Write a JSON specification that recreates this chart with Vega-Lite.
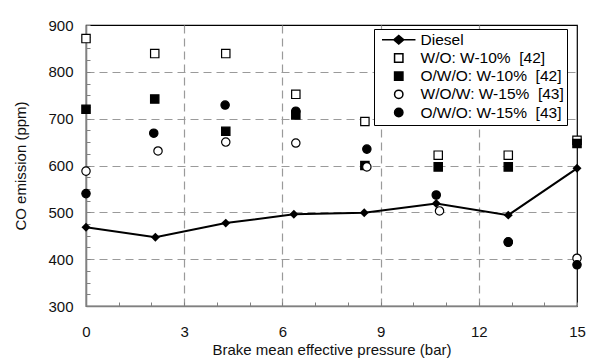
{
  "$schema": "https://vega.github.io/schema/vega-lite/v6.json",
  "width": 491,
  "height": 281,
  "autosize": {"type": "none"},
  "padding": {"left": 86, "top": 25, "right": 21, "bottom": 54},
  "background": "white",
  "config": {
    "font": "Liberation Sans",
    "view": {"stroke": "#000", "strokeWidth": 1.2}
  },
  "datasets": {
    "scatter": [
      {"bmep": 0, "co": 871, "series": "W/O: W-10%\u00a0 [42]"},
      {"bmep": 2.1, "co": 839, "series": "W/O: W-10%\u00a0 [42]"},
      {"bmep": 4.27, "co": 839, "series": "W/O: W-10%\u00a0 [42]"},
      {"bmep": 6.41, "co": 752, "series": "W/O: W-10%\u00a0 [42]"},
      {"bmep": 8.52, "co": 694, "series": "W/O: W-10%\u00a0 [42]"},
      {"bmep": 10.76, "co": 622, "series": "W/O: W-10%\u00a0 [42]"},
      {"bmep": 12.9, "co": 622, "series": "W/O: W-10%\u00a0 [42]"},
      {"bmep": 15, "co": 654, "series": "W/O: W-10%\u00a0 [42]"},
      {"bmep": 0, "co": 720, "series": "O/W/O: W-10%\u00a0 [42]"},
      {"bmep": 2.1, "co": 742, "series": "O/W/O: W-10%\u00a0 [42]"},
      {"bmep": 4.27, "co": 673, "series": "O/W/O: W-10%\u00a0 [42]"},
      {"bmep": 6.41, "co": 708, "series": "O/W/O: W-10%\u00a0 [42]"},
      {"bmep": 8.52, "co": 600, "series": "O/W/O: W-10%\u00a0 [42]"},
      {"bmep": 10.76, "co": 597, "series": "O/W/O: W-10%\u00a0 [42]"},
      {"bmep": 12.9, "co": 597, "series": "O/W/O: W-10%\u00a0 [42]"},
      {"bmep": 15, "co": 647, "series": "O/W/O: W-10%\u00a0 [42]"},
      {"bmep": 0, "co": 588, "series": "W/O/W: W-15%\u00a0 [43]"},
      {"bmep": 2.2, "co": 631, "series": "W/O/W: W-15%\u00a0 [43]"},
      {"bmep": 4.27, "co": 650, "series": "W/O/W: W-15%\u00a0 [43]"},
      {"bmep": 6.41, "co": 648, "series": "W/O/W: W-15%\u00a0 [43]"},
      {"bmep": 8.58, "co": 597, "series": "W/O/W: W-15%\u00a0 [43]"},
      {"bmep": 10.8, "co": 503, "series": "W/O/W: W-15%\u00a0 [43]"},
      {"bmep": 12.9, "co": 437, "series": "W/O/W: W-15%\u00a0 [43]"},
      {"bmep": 15, "co": 402, "series": "W/O/W: W-15%\u00a0 [43]"},
      {"bmep": 0, "co": 540, "series": "O/W/O: W-15%\u00a0 [43]"},
      {"bmep": 2.07, "co": 669, "series": "O/W/O: W-15%\u00a0 [43]"},
      {"bmep": 4.25, "co": 729, "series": "O/W/O: W-15%\u00a0 [43]"},
      {"bmep": 6.41, "co": 716, "series": "O/W/O: W-15%\u00a0 [43]"},
      {"bmep": 8.58, "co": 635, "series": "O/W/O: W-15%\u00a0 [43]"},
      {"bmep": 10.7, "co": 537, "series": "O/W/O: W-15%\u00a0 [43]"},
      {"bmep": 12.9, "co": 436, "series": "O/W/O: W-15%\u00a0 [43]"},
      {"bmep": 15, "co": 388, "series": "O/W/O: W-15%\u00a0 [43]"}
    ],
    "diesel": [
      {"bmep": 0, "co": 468},
      {"bmep": 2.12, "co": 447},
      {"bmep": 4.27, "co": 477},
      {"bmep": 6.35, "co": 496},
      {"bmep": 8.5, "co": 499},
      {"bmep": 10.7, "co": 519},
      {"bmep": 12.9, "co": 494},
      {"bmep": 15, "co": 594}
    ]
  },
  "encoding": {
    "x": {
      "field": "bmep", "type": "quantitative",
      "scale": {"domain": [0, 15], "nice": false, "zero": false},
      "axis": {
        "values": [0, 1, 2, 3, 4, 5, 6, 7, 8, 9, 10, 11, 12, 13, 14, 15],
        "labelExpr": "datum.value % 3 === 0 ? datum.label : ''",
        "labelOverlap": false,
        "labelFlush": false,
        "grid": true,
        "gridDash": [8, 5],
        "gridColor": "#9a9a9a",
        "gridWidth": 1.2,
        "gridOpacity": {"condition": {"test": "datum.value % 3 === 0 && datum.value > 0 && datum.value < 15", "value": 1}, "value": 0},
        "tickSize": -4,
        "tickColor": "#808080",
        "domainColor": "#808080",
        "domainWidth": 1.6,
        "labelFontSize": 15,
        "labelColor": "#111",
        "labelPadding": 22,
        "title": "Brake mean effective pressure (bar)",
        "titleFontSize": 15,
        "titleFontWeight": "normal",
        "titleColor": "#111",
        "titlePadding": 3
      }
    },
    "y": {
      "field": "co", "type": "quantitative",
      "scale": {"domain": [300, 900], "nice": false, "zero": false},
      "axis": {
        "values": [300, 325, 350, 375, 400, 425, 450, 475, 500, 525, 550, 575, 600, 625, 650, 675, 700, 725, 750, 775, 800, 825, 850, 875, 900],
        "labelExpr": "datum.value % 100 === 0 ? datum.label : ''",
        "labelOverlap": false,
        "labelFlush": false,
        "grid": true,
        "gridDash": [8, 5],
        "gridColor": "#9a9a9a",
        "gridWidth": 1.2,
        "gridOpacity": {"condition": {"test": "datum.value % 100 === 0 && datum.value > 300 && datum.value < 900", "value": 1}, "value": 0},
        "tickSize": -4,
        "tickColor": "#808080",
        "domainColor": "#808080",
        "domainWidth": 1.6,
        "labelFontSize": 15,
        "labelColor": "#111",
        "labelPadding": 17,
        "title": "CO emission (ppm)",
        "titleFontSize": 15,
        "titleFontWeight": "normal",
        "titleColor": "#111",
        "titlePadding": 19
      }
    }
  },
  "layer": [
    {
      "data": {"name": "scatter"},
      "mark": {"type": "point", "opacity": 1, "strokeWidth": 1.2, "size": 70},
      "encoding": {
        "shape": {
          "field": "series", "type": "nominal",
          "scale": {
            "domain": ["Diesel", "W/O: W-10%\u00a0 [42]", "O/W/O: W-10%\u00a0 [42]", "W/O/W: W-15%\u00a0 [43]", "O/W/O: W-15%\u00a0 [43]"],
            "range": ["M-4,0L4,0M-1.2,0L0,-1L1.2,0L0,1Z", "square", "square", "circle", "circle"]
          },
          "legend": {
            "title": null, "orient": "none", "legendX": 288, "legendY": 4,
            "strokeColor": "#000", "fillColor": "#fff", "padding": 3,
            "labelFontSize": 15.5, "labelColor": "#000", "symbolSize": 70,
            "rowPadding": 1.2, "labelOffset": 14, "symbolOffset": 14,
            "encode": {"symbols": {"update": {"stroke": {"value": "#000"}, "strokeWidth": {"value": 1.4}, "opacity": {"value": 1}}}}
          }
        },
        "fill": {
          "field": "series", "type": "nominal",
          "scale": {
            "domain": ["Diesel", "W/O: W-10%\u00a0 [42]", "O/W/O: W-10%\u00a0 [42]", "W/O/W: W-15%\u00a0 [43]", "O/W/O: W-15%\u00a0 [43]"],
            "range": ["#000", "#fff", "#000", "#fff", "#000"]
          },
          "legend": {
            "title": null, "orient": "none", "legendX": 288, "legendY": 4,
            "strokeColor": "#000", "fillColor": "#fff", "padding": 3,
            "labelFontSize": 15.5, "labelColor": "#000", "symbolSize": 70,
            "rowPadding": 1.2, "labelOffset": 14, "symbolOffset": 14,
            "encode": {"symbols": {"update": {"stroke": {"value": "#000"}, "strokeWidth": {"value": 1.4}, "opacity": {"value": 1}}}}
          }
        },
        "stroke": {"value": "#000"}
      }
    },
    {
      "data": {"name": "diesel"},
      "mark": {"type": "line", "color": "#000", "strokeWidth": 2},
      "encoding": {}
    },
    {
      "data": {"name": "diesel"},
      "mark": {"type": "point", "shape": "diamond", "filled": true, "color": "#000", "opacity": 1, "size": 80},
      "encoding": {}
    }
  ]
}
